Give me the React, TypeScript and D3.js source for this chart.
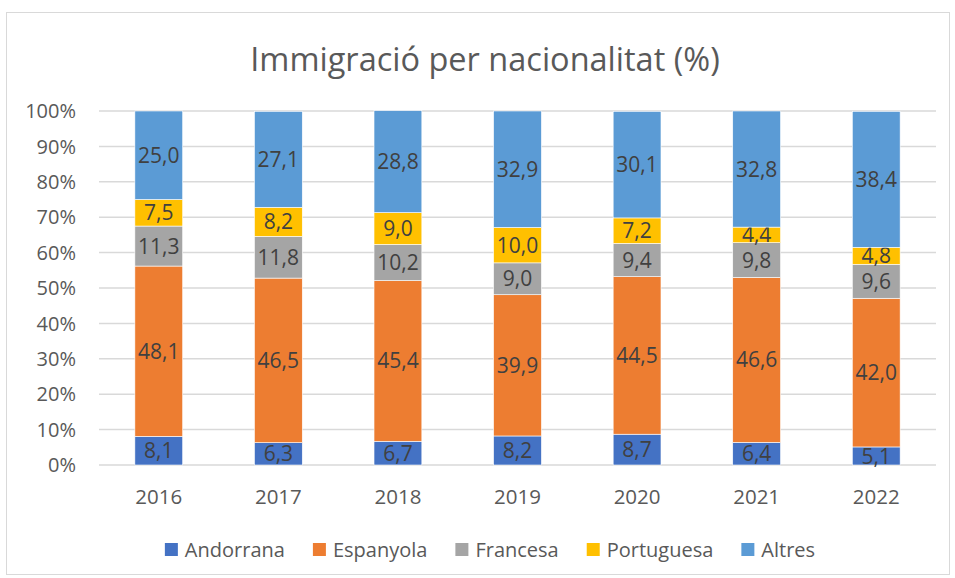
import React, { useEffect, useRef } from 'react';
import * as d3 from 'd3';

const years = ['2016', '2017', '2018', '2019', '2020', '2021', '2022'];
const seriesNames = ['Andorrana', 'Espanyola', 'Francesa', 'Portuguesa', 'Altres'];
const andorrana = [8.1, 6.3, 6.7, 8.2, 8.7, 6.4, 5.1];
const espanyola = [48.1, 46.5, 45.4, 39.9, 44.5, 46.6, 42.0];
const francesa = [11.3, 11.8, 10.2, 9.0, 9.4, 9.8, 9.6];
const portuguesa = [7.5, 8.2, 9.0, 10.0, 7.2, 4.4, 4.8];
const altres = [25.0, 27.1, 28.8, 32.9, 30.1, 32.8, 38.4];
const yTicks = [0, 10, 20, 30, 40, 50, 60, 70, 80, 90, 100];

const colors = ['#4472c4', '#ed7d31', '#a5a5a5', '#ffc000', '#5b9bd5'];
const FONT = 'Open Sans, sans-serif';

function App() {
  const svgRef = useRef<SVGSVGElement>(null);

  useEffect(() => {
    const svg = d3.select(svgRef.current);
    svg.selectAll('*').remove();
    const width = 955;
    const height = 578;
    const margin = { top: 111, right: 19, bottom: 113, left: 99 };
    const innerWidth = width - margin.left - margin.right;
    const innerHeight = height - margin.top - margin.bottom;

    svg.append('rect')
      .attr('x', 6.5).attr('y', 12.5).attr('width', 943).attr('height', 562)
      .attr('fill', 'white').attr('stroke', '#d9d9d9');

    svg.append('text')
      .attr('x', 485).attr('y', 71)
      .attr('text-anchor', 'middle')
      .attr('font-family', FONT).attr('font-size', 32.5)
      .attr('fill', '#595959')
      .text('Immigració per nacionalitat (%)');

    const g = svg.append('g').attr('transform', `translate(${margin.left},${margin.top})`);

    const x = d3.scaleBand().domain(years).range([0, innerWidth]).paddingInner(0.6).paddingOuter(0.3);
    const y = d3.scaleLinear().domain([0, 100]).range([innerHeight, 0]);

    g.selectAll('line.grid')
      .data(yTicks)
      .enter()
      .append('line')
      .attr('x1', 0).attr('x2', innerWidth)
      .attr('y1', d => y(d)).attr('y2', d => y(d))
      .attr('stroke', '#d9d9d9').attr('stroke-width', 1.5);

    g.selectAll('text.ytick')
      .data(yTicks)
      .enter()
      .append('text')
      .attr('x', -23).attr('y', d => y(d))
      .attr('dy', '0.36em')
      .attr('text-anchor', 'end')
      .attr('font-family', FONT).attr('font-size', 20)
      .attr('fill', '#595959')
      .text(d => d + '%');

    const rows = years.map((yr, i) => ({
      year: yr,
      Andorrana: andorrana[i],
      Espanyola: espanyola[i],
      Francesa: francesa[i],
      Portuguesa: portuguesa[i],
      Altres: altres[i],
    }));
    const stacked = d3.stack<any>().keys(seriesNames)(rows);

    stacked.forEach((layer, li) => {
      const lg = g.append('g');
      lg.selectAll('rect')
        .data(layer)
        .enter()
        .append('rect')
        .attr('x', d => x(d.data.year)!)
        .attr('y', d => y(d[1]))
        .attr('width', x.bandwidth())
        .attr('height', d => y(d[0]) - y(d[1]))
        .attr('fill', colors[li])
        .attr('stroke', 'white').attr('stroke-width', 0.6);
      lg.selectAll('text')
        .data(layer)
        .enter()
        .append('text')
        .attr('x', d => x(d.data.year)! + x.bandwidth() / 2)
        .attr('y', d => (y(d[0]) + y(d[1])) / 2)
        .attr('dy', '0.36em')
        .attr('text-anchor', 'middle')
        .attr('font-family', FONT).attr('font-size', 21)
        .attr('fill', '#404040')
        .text(d => (d[1] - d[0]).toFixed(1).replace('.', ','));
    });

    g.selectAll('text.xtick')
      .data(years)
      .enter()
      .append('text')
      .attr('x', d => x(d)! + x.bandwidth() / 2)
      .attr('y', innerHeight + 39)
      .attr('text-anchor', 'middle')
      .attr('font-family', FONT).attr('font-size', 20.5)
      .attr('fill', '#595959')
      .text(d => d);

    // legend
    const legend = svg.append('g');
    const items = legend.selectAll('g')
      .data(seriesNames)
      .enter()
      .append('g');
    items.append('rect')
      .attr('width', 13).attr('height', 13)
      .attr('y', -7)
      .attr('fill', (d, i) => colors[i]);
    items.append('text')
      .attr('x', 20).attr('dy', '0.36em')
      .attr('font-family', FONT).attr('font-size', 20)
      .attr('fill', '#595959')
      .text(d => d);
    const widths: number[] = [];
    items.each(function () {
      widths.push(20 + (d3.select(this).select('text').node() as SVGTextElement).getComputedTextLength());
    });
    const gap = 28;
    const total = d3.sum(widths) + gap * (widths.length - 1);
    let cx = 490 - total / 2;
    items.attr('transform', (d, i) => {
      const t = `translate(${cx},550)`;
      cx += widths[i] + gap;
      return t;
    });
  }, []);

  return (
    <svg ref={svgRef} width={955} height={578} style={{ position: 'absolute', left: 0, top: 0 }}></svg>
  );
}

export default App;
